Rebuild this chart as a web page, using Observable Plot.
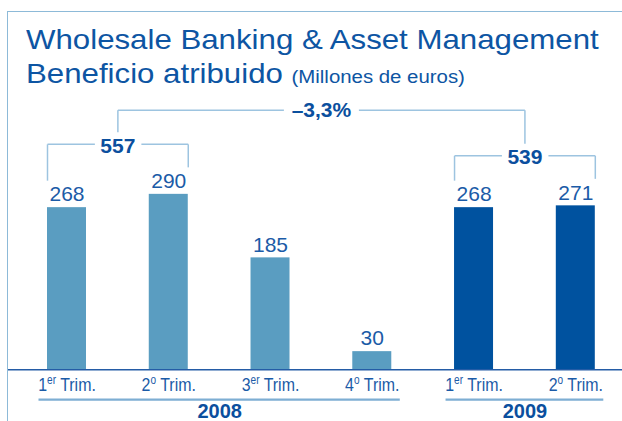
<!DOCTYPE html>
<html>
<head>
<meta charset="utf-8">
<script src="https://cdn.jsdelivr.net/npm/d3@7"></script>
<script src="https://cdn.jsdelivr.net/npm/@observablehq/plot@0.6"></script>
<style>
  html, body { margin: 0; padding: 0; background: #fff; }
  #wrap { position: relative; width: 622px; height: 421px; overflow: hidden; font-family: "Liberation Sans", Arial, sans-serif; }
  #title { position: relative; height: 95px; color: #0d55a3; }
  #title .l1, #title .l2 { position: absolute; left: 26px; height: 34px; line-height: 34px; font-size: 28px; white-space: nowrap; transform: scaleX(1.115); transform-origin: left center; }
  #title .l1 { top: 22.6px; }
  #title .l2 { top: 56.6px; }
  #title .sub { font-size: 18.3px; }
  #frame { position: absolute; left: 7px; top: 11px; width: 800px; height: 600px; border-left: 1.5px solid #8dbad8; border-top: 1.5px solid #8dbad8; pointer-events: none; }
</style>
</head>
<body>
<div id="wrap">
  <div id="title">
    <div class="l1">Wholesale Banking &amp; Asset Management</div>
    <div class="l2">Beneficio atribuido <span class="sub">(Millones de euros)</span></div>
  </div>
  <div id="chart"></div>
  <div id="frame"></div>
</div>
<script>
// ---- data ----
const quarters = ["1er Trim.", "2o Trim.", "3er Trim.", "4o Trim.", "1er Trim.", "2o Trim."];
const years = ["2008", "2008", "2008", "2008", "2009", "2009"];
const values = [268, 290, 185, 30, 268, 271];
const yearLabels = ["2008", "2009"];
const halfYearTotals = [557, 539];          // 1er+2o Trim. 2008, 1er+2o Trim. 2009
const halfYearIdx = [[0, 1], [4, 5]];        // which bars each total covers
const changeLabel = "\u20133,3%";

// ---- layout helpers ----
const xRange = [66.5, 575.3];
const yMax = 450, yRange = [274.3, 274.3 - 450 * 0.605];
const kx = (xRange[1] - xRange[0]) / (quarters.length - 1);   // px per index unit
const ky = (yRange[0] - yRange[1]) / yMax;                     // px per value unit
const pxX = p => p / kx, pxY = p => p / ky;
const hw = pxX(19.5);

const rows = values.map((v, i) => ({i, value: v, year: years[i], q: quarters[i]}));

const yearGroups = yearLabels.map(y => {
  const idx = rows.filter(r => r.year === y).map(r => r.i);
  return {year: y, a: d3.min(idx), b: d3.max(idx)};
});

const brackets = halfYearTotals.map((t, k) => {
  const [a, b] = halfYearIdx[k];
  const top = Math.max(values[a], values[b]) + pxY(50);
  return {total: t, a, b, mid: (a + b) / 2, y: top};
});
const topY = d3.max(values) + pxY(84);
const topMid = (brackets[0].mid + brackets[1].mid) / 2;

const links = [];
for (const br of brackets) {
  links.push({x1: br.a - hw, y1: values[br.a] + pxY(27), x2: br.a - hw, y2: br.y});
  links.push({x1: br.b + hw, y1: values[br.b] + pxY(27), x2: br.b + hw, y2: br.y});
  links.push({x1: br.a - hw, y1: br.y, x2: br.mid - pxX(23), y2: br.y});
  links.push({x1: br.mid + pxX(23.5), y1: br.y, x2: br.b + hw, y2: br.y});
  links.push({x1: br.mid, y1: br.y + pxY(12), x2: br.mid, y2: topY});
}
links.push({x1: brackets[0].mid, y1: topY, x2: topMid - pxX(37.5), y2: topY});
links.push({x1: topMid + pxX(37.5), y1: topY, x2: brackets[1].mid, y2: topY});

const labelBlue = "#1b5ba7";
const darkBlue = "#0b4f9e";
const bracketColor = "#9dc4e0";

const chart = Plot.plot({
  width: 622,
  height: 326,
  marginLeft: 8, marginRight: 0, marginTop: 0, marginBottom: 0,
  style: {background: "transparent", fontFamily: "'Liberation Sans', Arial, sans-serif", overflow: "visible"},
  x: {type: "linear", domain: [0, quarters.length - 1], range: xRange, axis: null},
  y: {domain: [0, yMax], range: yRange, axis: null},
  color: {domain: yearLabels, range: ["#5a9dc1", "#00529f"]},
  marks: [
    Plot.rectY(rows, {x1: d => d.i - hw, x2: d => d.i + hw, y: "value", fill: "year"}),
    Plot.ruleY([0], {stroke: "#245ca6", strokeWidth: 1.6}),
    Plot.text(rows, {x: "i", y: "value", text: d => String(d.value), lineAnchor: "bottom", dy: -6.3, fontSize: 21, fill: labelBlue}),
    Plot.link(links, {x1: "x1", y1: "y1", x2: "x2", y2: "y2", stroke: bracketColor, strokeWidth: 1.5}),
    Plot.text(brackets, {x: "mid", y: "y", text: d => String(d.total), lineAnchor: "bottom", dy: 8.5, fontSize: 21, fontWeight: "bold", fill: darkBlue}),
    Plot.text([changeLabel], {x: () => topMid, y: () => topY, text: d => d, lineAnchor: "bottom", dy: 6.8, fontSize: 21, fontWeight: "bold", fill: darkBlue}),
    Plot.text(rows, {x: "i", y: () => 0, text: "q", lineAnchor: "bottom", dy: 21, fontSize: 19, fill: labelBlue}),
    Plot.ruleY(yearGroups, {y: () => 0, x1: d => d.a - hw - pxX(8.5), x2: d => d.b + hw + pxX(8.5), dy: 29.8, stroke: "#7eaed3", strokeWidth: 2.2}),
    Plot.text(yearGroups, {x: d => (d.a + d.b) / 2, y: () => 0, text: "year", lineAnchor: "bottom", dy: 48.5, fontSize: 20, fontWeight: "bold", fill: darkBlue})
  ]
});
document.getElementById("chart").appendChild(chart);

// superscripts in quarter labels ("1er", "2o") and condensed look
const ns = "http://www.w3.org/2000/svg";
chart.querySelectorAll("text").forEach(t => {
  const m = /^(\d)(er|o)(\s.*)$/.exec(t.textContent);
  if (!m) return;
  t.textContent = "";
  const a = document.createElementNS(ns, "tspan"); a.textContent = m[1];
  const s = document.createElementNS(ns, "tspan"); s.textContent = m[2];
  s.setAttribute("font-size", "12"); s.setAttribute("dy", "-7");
  const c = document.createElementNS(ns, "tspan"); c.textContent = m[3];
  c.setAttribute("dy", "7");
  t.append(a, s, c);
  const tr = t.getAttribute("transform");
  if (tr) t.setAttribute("transform", tr + " scale(0.84,1)");
  else {
    const x = +t.getAttribute("x") || 0;
    t.setAttribute("transform", `translate(${x},0) scale(0.84,1) translate(${-x},0)`);
  }
});
</script>
</body>
</html>
